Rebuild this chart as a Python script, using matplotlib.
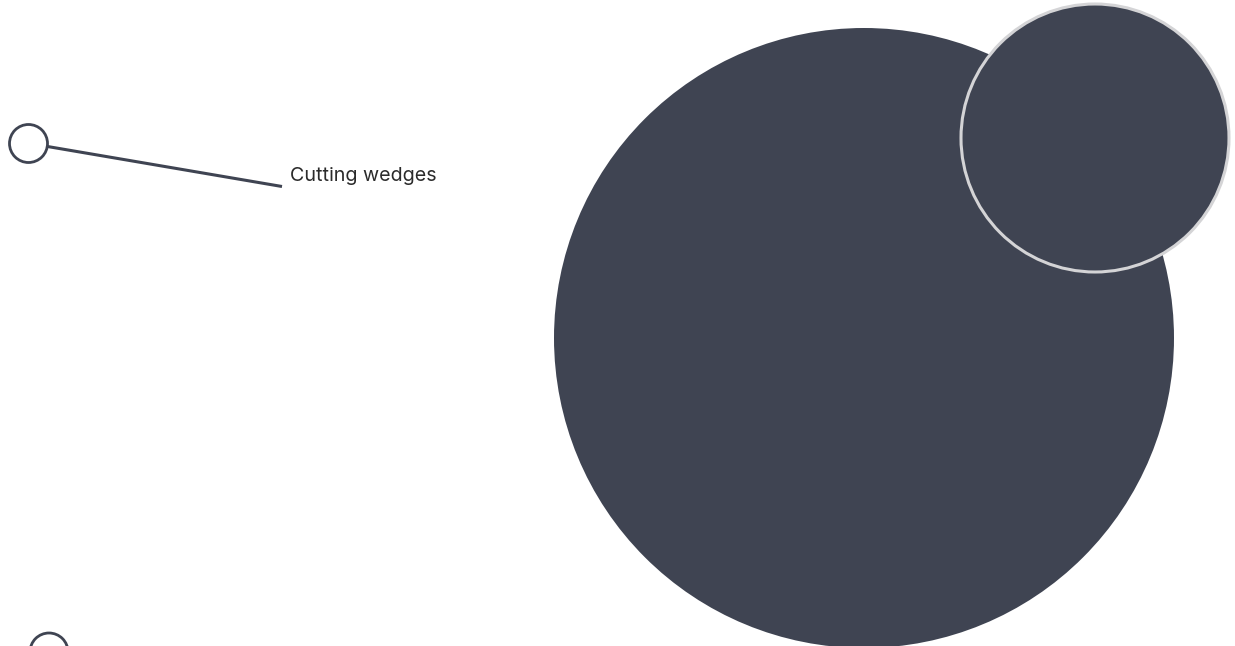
import numpy as np
from matplotlib import pyplot as plt
from matplotlib.patches import Circle

# Bubble data (canvas units, y grows downward)
bubble_x = [864, 1095]
bubble_y = [338, 138]
bubble_r = [310, 134]
bubble_edge = ["none", "#d4d4d6"]

# Legend-like markers with leader line
marker_x = [28.5, 49]
marker_y = [143.5, 652]
marker_r = [19, 19]
label_text = "Cutting wedges"
leader_x = [47.5, 282]
leader_y = [146.5, 186.5]

fill_color = "#3f4452"

fig = plt.figure(figsize=(12.35, 6.46), dpi=100)
ax = fig.add_axes([0, 0, 1, 1])
ax.set_xlim(0, 1235)
ax.set_ylim(646, 0)
ax.set_aspect("equal")
ax.axis("off")

for x, y, r, ec in zip(bubble_x, bubble_y, bubble_r, bubble_edge):
    ax.add_patch(Circle((x, y), r, facecolor=fill_color, edgecolor=ec,
                        linewidth=2.2 if ec != "none" else 0))

for x, y, r in zip(marker_x, marker_y, marker_r):
    ax.add_patch(Circle((x, y), r, facecolor="white", edgecolor=fill_color, linewidth=2))

ax.plot(leader_x, leader_y, color=fill_color, linewidth=2.2, solid_capstyle="butt")
ax.text(290, 181, label_text, fontsize=14.2, family=["Inter", "DejaVu Sans"],
        color="#2b2b2b", va="baseline", ha="left")

fig.savefig("out.png", dpi=100)
